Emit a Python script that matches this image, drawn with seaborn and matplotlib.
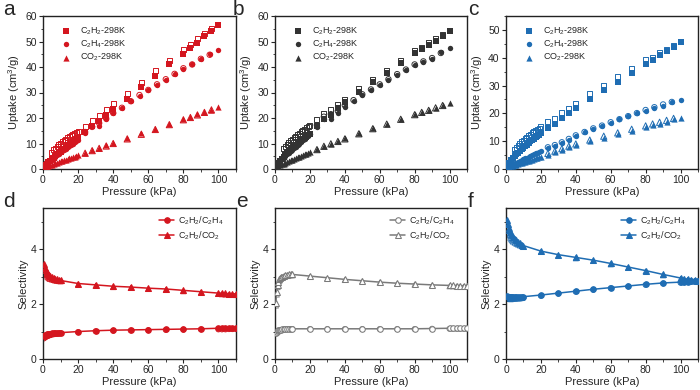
"""
C2H2 / C2H4 / CO2 adsorption isotherms (a-c) and IAST selectivity (d-f).
"""

import matplotlib
matplotlib.use('Agg')
import matplotlib.pyplot as plt
import seaborn as sns
from matplotlib.ticker import MultipleLocator

# ---------------- data ----------------
# pressure grids (kPa)
p_low = [0.5, 1, 1.5, 2, 3, 4, 5, 6, 7, 8, 9, 10, 11, 12, 13, 14, 15, 16, 17, 18, 19, 20]
p_high = [24, 28, 32, 36, 40, 48, 56, 64, 72, 80, 84, 88, 92, 96, 100]
p_high_des = [24, 28, 32, 36, 40, 48, 56, 64, 72, 80, 84, 88, 92, 96]
p_c2h4 = [24, 28, 32, 36, 40, 45, 50, 55, 60, 65, 70, 75, 80, 85, 90, 95, 100]
p_c2h4_des = [24, 28, 32, 36, 40, 45, 50, 55, 60, 65, 70, 75, 80, 85, 90, 95]
p_des_low = [5, 6, 7, 8, 9, 10, 11, 12, 13, 14, 15, 16, 17, 18, 19, 20]

# panel a
a_c2h2_low = [0.6, 1.1, 1.5, 1.9, 2.6, 3.3, 3.9, 4.5, 5.1, 5.7, 6.2, 6.8, 7.3, 7.9, 8.4, 8.9, 9.4, 9.9, 10.4, 10.9, 11.5, 12.1]
a_c2h2_high = [14.5, 17.0, 19.0, 21.2, 23.5, 27.5, 32.0, 36.5, 41.0, 45.0, 47.5, 49.5, 52.0, 54.2, 56.5]
a_c2h2_des_low = [6.6, 7.5, 8.2, 8.9, 9.5, 10.1, 10.7, 11.2, 11.7, 12.2, 12.7, 13.2, 13.6, 14.0, 14.3, 14.6]
a_c2h2_des = [16.8, 19.0, 21.0, 23.2, 25.5, 29.5, 34.0, 38.5, 42.5, 46.7, 49.0, 51.0, 53.0, 55.0]
a_c2h4_low = [0.5, 1.0, 1.4, 1.8, 2.5, 3.1, 3.7, 4.3, 4.9, 5.4, 6.0, 6.5, 7.0, 7.5, 8.0, 8.5, 9.0, 9.5, 10.0, 10.5, 11.0, 11.5]
a_c2h4_high = [14.2, 16.8, 17.0, 19.5, 21.8, 24.0, 26.5, 28.8, 31.0, 33.0, 35.0, 37.3, 39.3, 41.2, 43.0, 45.0, 46.5]
a_c2h4_des = [14.5, 16.5, 18.0, 19.8, 22.0, 24.0, 26.6, 29.0, 31.0, 33.2, 35.2, 37.3, 39.5, 41.0, 43.2, 44.8]
a_co2_low = [0.2, 0.4, 0.6, 0.8, 1.1, 1.4, 1.7, 2.0, 2.2, 2.5, 2.7, 3.0, 3.2, 3.5, 3.7, 3.9, 4.2, 4.4, 4.7, 4.9, 5.1, 5.4]
a_co2_high = [6.4, 7.4, 8.3, 9.3, 10.3, 12.0, 14.0, 15.8, 17.8, 19.6, 20.5, 21.4, 22.4, 23.3, 24.2]
a_co2_des = [6.2, 7.2, 8.1, 9.0, 10.0, 11.8, 13.6, 15.5, 17.4, 19.3, 20.2, 21.2, 22.2, 23.2]

# panel b
b_c2h2_low = [0.7, 1.3, 1.8, 2.3, 3.2, 4.0, 4.8, 5.5, 6.2, 6.9, 7.5, 8.1, 8.7, 9.3, 9.9, 10.5, 11.0, 11.6, 12.1, 12.7, 13.3, 13.9]
b_c2h2_high = [16.9, 19.7, 21.0, 23.8, 26.3, 30.3, 34.0, 37.8, 41.4, 45.3, 47.0, 48.6, 50.3, 52.0, 54.2]
b_c2h2_des_low = [8.0, 8.9, 9.7, 10.4, 11.0, 11.6, 12.2, 12.8, 13.4, 14.0, 14.6, 15.1, 15.6, 16.1, 16.6, 17.1]
b_c2h2_des = [19.3, 21.9, 23.4, 25.4, 27.3, 31.6, 35.2, 38.8, 42.7, 46.4, 47.7, 49.5, 51.0, 52.7]
b_c2h4_low = [0.6, 1.2, 1.7, 2.2, 3.0, 3.8, 4.5, 5.2, 5.8, 6.4, 7.0, 7.6, 8.2, 8.8, 9.4, 10.0, 10.6, 11.2, 11.8, 12.4, 13.0, 13.6]
b_c2h4_high = [16.5, 19.5, 19.8, 22.0, 24.2, 26.6, 29.0, 31.0, 33.0, 35.0, 37.0, 39.0, 40.8, 42.0, 43.0, 45.7, 47.3]
b_c2h4_des = [17.2, 20.5, 21.5, 22.8, 25.0, 27.0, 29.3, 31.2, 33.2, 35.2, 37.2, 39.0, 41.0, 42.2, 43.5, 45.5]
b_co2_low = [0.3, 0.5, 0.8, 1.0, 1.4, 1.8, 2.1, 2.5, 2.8, 3.1, 3.4, 3.7, 4.0, 4.3, 4.6, 4.9, 5.2, 5.5, 5.8, 6.0, 6.3, 6.5]
b_co2_high = [7.7, 9.0, 10.0, 11.0, 12.0, 14.0, 16.0, 17.8, 19.7, 21.5, 22.3, 23.2, 24.0, 25.0, 26.0]
b_co2_des = [7.6, 8.9, 9.9, 10.8, 11.8, 13.8, 15.8, 17.6, 19.5, 21.3, 22.2, 23.0, 24.0, 24.9]

# panel c
c_c2h2_low = [0.7, 1.3, 1.8, 2.3, 3.1, 3.9, 4.6, 5.3, 5.9, 6.5, 7.1, 7.7, 8.3, 8.8, 9.4, 9.9, 10.4, 10.9, 11.4, 11.9, 12.4, 12.9]
c_c2h2_high = [14.8, 16.0, 18.5, 20.1, 21.9, 25.1, 28.5, 31.3, 34.4, 37.7, 39.2, 40.9, 42.5, 44.0, 45.5]
c_c2h2_des_low = [7.0, 7.8, 8.5, 9.2, 9.8, 10.4, 10.9, 11.5, 12.0, 12.5, 13.0, 13.5, 13.9, 14.3, 14.7, 15.1]
c_c2h2_des = [16.9, 18.3, 20.3, 21.9, 23.7, 27.0, 30.1, 33.1, 36.2, 39.2, 40.2, 42.0, 43.0, 44.5]
c_c2h4_low = [0.3, 0.6, 0.8, 1.0, 1.4, 1.7, 2.0, 2.3, 2.6, 2.9, 3.2, 3.5, 3.8, 4.1, 4.4, 4.7, 5.0, 5.3, 5.6, 5.9, 6.2, 6.5]
c_c2h4_high = [7.5, 8.2, 9.4, 10.6, 12.0, 13.2, 14.5, 15.5, 16.7, 17.8, 18.9, 20.0, 21.0, 21.8, 22.8, 24.0, 24.8]
c_c2h4_des = [7.8, 8.6, 9.6, 10.8, 12.1, 13.3, 14.6, 15.6, 16.8, 17.9, 19.0, 20.1, 21.2, 22.2, 23.2, 24.1]
c_co2_low = [0.2, 0.4, 0.5, 0.7, 0.9, 1.2, 1.4, 1.6, 1.8, 2.0, 2.2, 2.4, 2.6, 2.8, 3.0, 3.2, 3.4, 3.6, 3.8, 4.0, 4.2, 4.4]
c_co2_high = [5.2, 6.0, 7.0, 7.8, 8.6, 10.0, 11.3, 12.5, 13.8, 15.0, 15.7, 16.3, 17.0, 17.8, 18.5]
c_co2_des = [5.6, 6.4, 7.3, 8.2, 9.0, 10.4, 11.8, 13.0, 14.3, 15.5, 16.2, 16.8, 17.5, 18.2]

# selectivity pressure grid
p_sel = [0.5, 1, 1.5, 2, 2.5, 3, 3.5, 4, 5, 6, 7, 8, 9, 10, 20, 30, 40, 50, 60, 70, 80, 90, 100, 102, 104, 106, 108, 110]

d_c2h4 = [0.85, 0.87, 0.88, 0.89, 0.90, 0.91, 0.92, 0.92, 0.93, 0.94, 0.95, 0.95, 0.96, 0.96, 1.00, 1.03, 1.05, 1.06, 1.07, 1.08, 1.09, 1.10, 1.12, 1.12, 1.12, 1.13, 1.13, 1.13]
d_c2h4_open = [0.75, 0.78, 0.80, 0.82, 0.84, 0.85, 0.86, 0.87, 0.89, 0.90, 0.91, 0.92, 0.93, 0.94, 0.98, 1.01, 1.03, 1.04, 1.05, 1.06, 1.07, 1.08, 1.08, 1.08, 1.08, 1.09, 1.09, 1.09]
d_co2 = [3.45, 3.32, 3.24, 3.17, 3.12, 3.08, 3.05, 3.02, 2.98, 2.95, 2.92, 2.90, 2.88, 2.86, 2.75, 2.70, 2.65, 2.62, 2.58, 2.55, 2.50, 2.45, 2.40, 2.40, 2.39, 2.38, 2.38, 2.37]
d_co2_open = [3.30, 3.18, 3.10, 3.05, 3.00, 2.97, 2.94, 2.92, 2.90, 2.88, 2.86, 2.85, 2.84, 2.83, 2.72, 2.67, 2.62, 2.59, 2.55, 2.52, 2.47, 2.42, 2.37, 2.36, 2.35, 2.34, 2.34, 2.33]

e_c2h4 = [0.95, 0.99, 1.02, 1.04, 1.05, 1.06, 1.07, 1.08, 1.09, 1.10, 1.10, 1.10, 1.10, 1.10, 1.10, 1.10, 1.10, 1.10, 1.10, 1.10, 1.10, 1.11, 1.12, 1.12, 1.12, 1.12, 1.12, 1.12]
e_c2h4_open = [0.92, 0.96, 0.99, 1.01, 1.03, 1.04, 1.05, 1.06, 1.07, 1.08, 1.08, 1.09, 1.09, 1.09, 1.09, 1.09, 1.09, 1.09, 1.09, 1.09, 1.09, 1.10, 1.10, 1.10, 1.10, 1.10, 1.10, 1.10]
e_co2 = [2.05, 2.45, 2.70, 2.82, 2.90, 2.95, 2.98, 3.00, 3.03, 3.05, 3.07, 3.08, 3.08, 3.08, 3.02, 2.96, 2.90, 2.85, 2.80, 2.76, 2.73, 2.70, 2.68, 2.68, 2.67, 2.67, 2.66, 2.66]
e_co2_open = [1.95, 2.35, 2.62, 2.76, 2.85, 2.91, 2.95, 2.97, 3.00, 3.02, 3.04, 3.05, 3.05, 3.05, 2.99, 2.93, 2.88, 2.83, 2.78, 2.74, 2.71, 2.68, 2.65, 2.65, 2.64, 2.64, 2.63, 2.63]

f_c2h4 = [2.28, 2.27, 2.26, 2.26, 2.25, 2.25, 2.25, 2.25, 2.25, 2.25, 2.26, 2.26, 2.27, 2.27, 2.33, 2.40, 2.47, 2.54, 2.60, 2.66, 2.72, 2.77, 2.80, 2.81, 2.82, 2.83, 2.84, 2.85]
f_c2h4_open = [2.20, 2.19, 2.18, 2.18, 2.18, 2.18, 2.18, 2.18, 2.19, 2.19, 2.20, 2.20, 2.21, 2.22, 2.30, 2.38, 2.45, 2.52, 2.58, 2.64, 2.70, 2.75, 2.78, 2.79, 2.80, 2.81, 2.81, 2.82]
f_co2 = [5.05, 4.90, 4.78, 4.70, 4.62, 4.55, 4.50, 4.45, 4.38, 4.32, 4.26, 4.21, 4.17, 4.13, 3.93, 3.80, 3.70, 3.60, 3.48, 3.35, 3.22, 3.08, 2.95, 2.93, 2.91, 2.89, 2.87, 2.85]
f_co2_open = [4.90, 4.72, 4.58, 4.50, 4.42, 4.36, 4.32, 4.28, 4.24, 4.20, 4.17, 4.14, 4.11, 4.09, 3.90, 3.77, 3.67, 3.57, 3.45, 3.32, 3.19, 3.05, 2.92, 2.90, 2.88, 2.86, 2.84, 2.82]

iso_labels = [r'C$_2$H$_2$-298K', r'C$_2$H$_4$-298K', r'CO$_2$-298K']
sel_labels = [r'C$_2$H$_2$/C$_2$H$_4$', r'C$_2$H$_2$/CO$_2$']

RED = '#d4161f'
DARK = '#333333'
GREY = '#7a7a7a'
BLUE = '#1f6db3'

# ---------------- style ----------------
sns.set_style('ticks')
plt.rcParams['font.family'] = ['Liberation Sans', 'DejaVu Sans']
plt.rcParams['mathtext.default'] = 'regular'
plt.rcParams['axes.linewidth'] = 1.0


def style_axes(ax, ymax, ymajor, yminor):
    ax.set_xlim(0, 110)
    ax.set_ylim(0, ymax)
    ax.xaxis.set_major_locator(MultipleLocator(20))
    ax.xaxis.set_minor_locator(MultipleLocator(10))
    ax.yaxis.set_major_locator(MultipleLocator(ymajor))
    ax.yaxis.set_minor_locator(MultipleLocator(yminor))
    ax.tick_params(which='major', length=3, width=0.8, labelsize=7.5, pad=1.5)
    ax.tick_params(which='minor', length=1.8, width=0.6)
    for s in ax.spines.values():
        s.set_visible(True)
        s.set_color('#222222')
    ax.set_xlabel('Pressure (kPa)', fontsize=8, labelpad=1)


def plot_iso(ax, color, series):
    markers = ['s', 'o', '^']
    sizes = [13, 15, 20]
    for (pa, ya, pd_, yd), m, sz, lab in zip(series, markers, sizes, iso_labels):
        sns.scatterplot(x=pa, y=ya, marker=m, color=color, s=sz, linewidth=0,
                        label=lab, ax=ax, zorder=3)
        sns.scatterplot(x=pd_, y=yd, marker=m, s=sz, facecolors='none',
                        edgecolor=color, linewidth=0.7, ax=ax, zorder=3)
    ax.set_ylabel(r'Uptake (cm$^3$/g)', fontsize=8, labelpad=2)
    ax.legend(loc='upper left', frameon=False, fontsize=6.5, handletextpad=0.5,
              borderaxespad=0.3, labelspacing=0.2, markerscale=1.0,
              bbox_to_anchor=(0.04, 0.98))


def plot_sel(ax, color, ys, open_main=False):
    markers = ['o', '^']
    for (yf, yo), m, lab in zip(ys, markers, sel_labels):
        sns.scatterplot(x=p_sel, y=yo, marker=m, s=14, facecolors='none',
                        edgecolor=color, linewidth=0.6, ax=ax, zorder=2)
        mfc = 'white' if open_main else color
        sns.lineplot(x=p_sel, y=yf, color=color, marker=m, markersize=4,
                     markerfacecolor=mfc, markeredgecolor=color, linewidth=1.1,
                     label=lab, ax=ax, zorder=3)
    ax.set_ylabel('Selectivity', fontsize=8, labelpad=2)
    ax.legend(loc='upper right', frameon=False, fontsize=6.5, handlelength=1.6,
              handletextpad=0.5, labelspacing=0.3, borderaxespad=0.3,
              bbox_to_anchor=(0.97, 1.0))


fig = plt.figure(figsize=(7, 3.9), dpi=100)


def px_axes(left, right, top, bottom):
    W, H = 700, 390
    return fig.add_axes([left / W, (H - bottom) / H, (right - left) / W, (bottom - top) / H])


ax_a = px_axes(43, 236, 16, 169)
ax_b = px_axes(275, 467, 16, 169)
ax_c = px_axes(506, 698, 16, 169)
ax_d = px_axes(43, 236, 208, 359)
ax_e = px_axes(275, 467, 208, 359)
ax_f = px_axes(506, 698, 208, 359)

plot_iso(ax_a, RED, [
    (p_low + p_high, a_c2h2_low + a_c2h2_high, p_des_low + p_high_des, a_c2h2_des_low + a_c2h2_des),
    (p_low + p_c2h4, a_c2h4_low + a_c2h4_high, p_c2h4_des, a_c2h4_des),
    (p_low + p_high, a_co2_low + a_co2_high, p_high_des, a_co2_des),
])
plot_iso(ax_b, DARK, [
    (p_low + p_high, b_c2h2_low + b_c2h2_high, p_des_low + p_high_des, b_c2h2_des_low + b_c2h2_des),
    (p_low + p_c2h4, b_c2h4_low + b_c2h4_high, p_c2h4_des, b_c2h4_des),
    (p_low + p_high, b_co2_low + b_co2_high, p_high_des, b_co2_des),
])
plot_iso(ax_c, BLUE, [
    (p_low + p_high, c_c2h2_low + c_c2h2_high, p_des_low + p_high_des, c_c2h2_des_low + c_c2h2_des),
    (p_low + p_c2h4, c_c2h4_low + c_c2h4_high, p_c2h4_des, c_c2h4_des),
    (p_low + p_high, c_co2_low + c_co2_high, p_high_des, c_co2_des),
])
style_axes(ax_a, 60, 10, 5)
style_axes(ax_b, 60, 10, 5)
style_axes(ax_c, 55, 10, 5)

plot_sel(ax_d, RED, [(d_c2h4, d_c2h4_open), (d_co2, d_co2_open)])
plot_sel(ax_e, GREY, [(e_c2h4, e_c2h4_open), (e_co2, e_co2_open)], open_main=True)
plot_sel(ax_f, BLUE, [(f_c2h4, f_c2h4_open), (f_co2, f_co2_open)])
for ax in (ax_d, ax_e, ax_f):
    style_axes(ax, 5.5, 2, 1)

# panel letters
for lab, x, y in [('a', 3, 15), ('b', 233, 15), ('c', 468, 15),
                  ('d', 3, 207), ('e', 236, 207), ('f', 468, 207)]:
    fig.text(x / 700, 1 - y / 390, lab, fontsize=15, va='baseline', ha='left')

plt.savefig('out.png', dpi=100)
plt.close()
